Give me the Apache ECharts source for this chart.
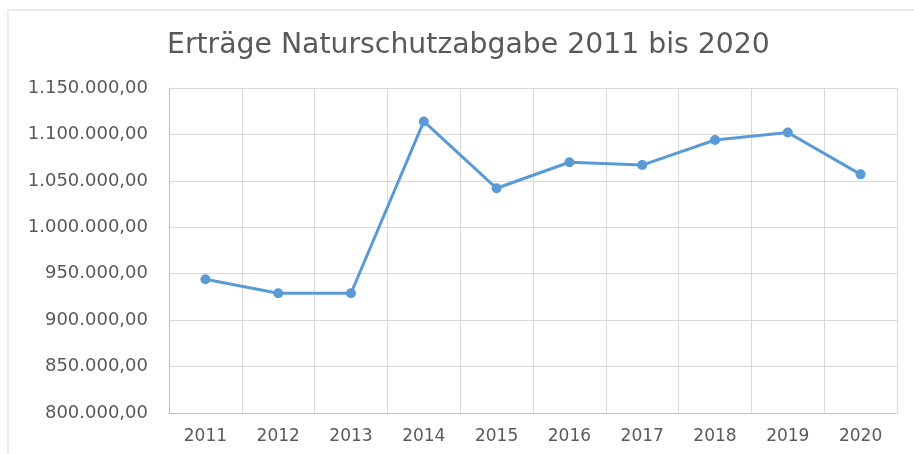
<!DOCTYPE html>
<html>
<head>
<meta charset="utf-8">
<script src="https://cdn.jsdelivr.net/npm/echarts@6/dist/echarts.min.js"></script>
<style>
  html, body { margin: 0; padding: 0; background: #fff; }
  #main { width: 914px; height: 454px; }
</style>
</head>
<body>
<div id="main"></div>
<script>
// Years on the x axis
const years = ["2011", "2012", "2013", "2014", "2015", "2016", "2017", "2018", "2019", "2020"];

// Revenue per year (EUR)
const revenues = [944000, 929000, 929000, 1114000, 1042000, 1070000, 1067000, 1094000, 1102000, 1057000];

// Y axis range
const yMin = 800000;
const yMax = 1150000;
const yStep = 50000;

// German number format: 1.150.000,00
const formatDe = (v) => {
  const parts = Math.round(v).toString().replace(/\B(?=(\d{3})+(?!\d))/g, ".");
  return parts + ",00";
};

const chart = echarts.init(document.getElementById("main"));

const option = {
  animation: false,
  backgroundColor: "#ffffff",
  title: {
    text: "Erträge Naturschutzabgabe 2011 bis 2020",
    left: 162,
    top: 27,
    textStyle: {
      fontFamily: "DejaVu Sans",
      fontSize: 28.3,
      fontWeight: "normal",
      color: "#595959",
    },
  },
  graphic: [
    {
      type: "rect",
      shape: { x: 8, y: 10, width: 920, height: 460 },
      style: { fill: "none", stroke: "#d9d9d9", lineWidth: 1 },
      silent: true,
    },
  ],
  grid: { left: 169, right: 17, top: 88, bottom: 41 },
  xAxis: {
    type: "category",
    data: years,
    boundaryGap: true,
    axisLine: { lineStyle: { color: "#bfbfbf", width: 1 } },
    axisTick: { show: false },
    axisLabel: {
      color: "#595959",
      fontFamily: "DejaVu Sans",
      fontSize: 17,
      margin: 15,
    },
    splitLine: { show: true, lineStyle: { color: "#d9d9d9", width: 1 } },
  },
  yAxis: {
    type: "value",
    min: yMin,
    max: yMax,
    interval: yStep,
    axisLine: { show: true, lineStyle: { color: "#bfbfbf", width: 1 } },
    axisTick: { show: false },
    axisLabel: {
      color: "#595959",
      fontFamily: "DejaVu Sans",
      fontSize: 18,
      margin: 21,
      formatter: formatDe,
    },
    splitLine: { show: true, lineStyle: { color: "#d9d9d9", width: 1 } },
  },
  series: [
    {
      type: "line",
      data: revenues,
      symbol: "circle",
      symbolSize: 10,
      lineStyle: { color: "#5b9bd5", width: 3 },
      itemStyle: { color: "#5b9bd5" },
    },
  ],
};

chart.setOption(option);
window.addEventListener("resize", () => chart.resize());
</script>
</body>
</html>
